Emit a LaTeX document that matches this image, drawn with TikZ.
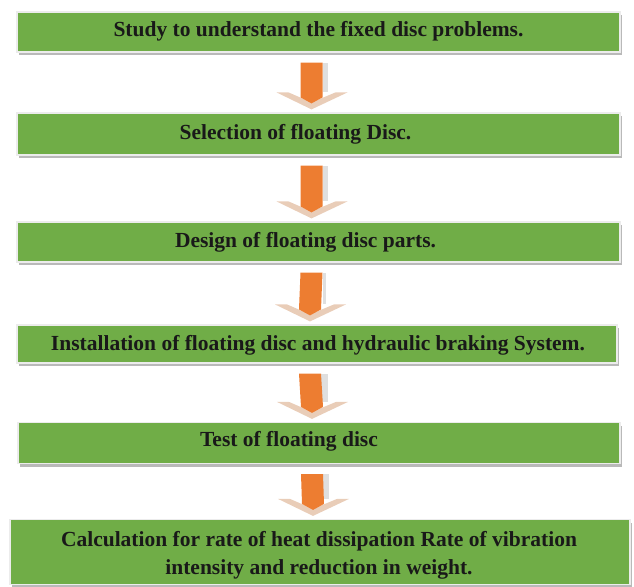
\documentclass[tikz,border=0pt]{standalone}
\usepackage{fontspec}
\setmainfont{Liberation Serif}
\usetikzlibrary{calc,shadows}
\definecolor{stepgreen}{HTML}{70AD47}
\definecolor{steporange}{HTML}{ED7D31}
\definecolor{steptan}{HTML}{E9CDB8}
\newcommand{\steparrow}[2]{%
  \coordinate (s) at ($(#1.south)+(-7,10)$);
  \coordinate (t) at ($(#2.north)+(-7,-3)$);
  \fill[steptan] ($(t)+(-35,-17)$) -- (t) -- ($(t)+(36,-17)$) -- ($(t)+(24,-17)$) -- ($(t)+(0,-7)$) -- ($(t)+(-23,-17)$) -- cycle;
  \fill[gray!25] ($(s)+(11,0)$) rectangle ($(t)+(16,-17)$);
  \fill[steporange] ($(s)+(-11,0)$) -- ($(s)+(11,0)$) -- ($(t)+(11,-12)$) -- ($(t)+(0,-6)$) -- ($(t)+(-11,-12)$) -- cycle;
}
\begin{document}
\begin{tikzpicture}[x=1pt,y=-1pt,
    stepbox/.style={fill=stepgreen,draw=gray!15,line width=1.2pt,inner sep=0pt,
      drop shadow={shadow xshift=2pt,shadow yshift=-3pt,fill=gray!55,opacity=1}},
    steptext/.style={font=\fontsize{21.5}{28}\selectfont\bfseries,text=black!90,align=center,inner sep=0pt}]
    \useasboundingbox (0,0) rectangle (634,586);
    %% boxes
    \node[stepbox,minimum width=603,minimum height=40] (b1) at (318.5,32) {};
    \node[stepbox,minimum width=603,minimum height=42] (b2) at (318.5,134) {};
    \node[stepbox,minimum width=603,minimum height=40] (b3) at (318.5,242) {};
    \node[stepbox,minimum width=600,minimum height=38] (b4) at (317,344) {};
    \node[stepbox,minimum width=602,minimum height=41] (b5) at (319,443) {};
    \node[stepbox,minimum width=620,minimum height=65] (b6) at (320,552) {};
    %% labels
    \node[steptext] (t1) at ($(b1)+(0,-1)$) {Study to understand the fixed disc problems.};
    \node[steptext] (t2) at ($(b2)+(-23,0)$) {Selection of floating Disc.};
    \node[steptext] (t3) at ($(b3)+(-13,0)$) {Design of floating disc parts.};
    \node[steptext] (t4) at ($(b4)+(1,1)$) {Installation of floating disc and hydraulic braking System.};
    \node[steptext] (t5) at ($(b5)+(-30,-2)$) {Test of floating disc};
    \node[steptext] (t6) at ($(b6)+(-1,3)$) {Calculation for rate of heat dissipation Rate of vibration\\intensity and reduction in weight.};
    %% arrows
    \steparrow{b1}{b2}
    \steparrow{b2}{b3}
    \steparrow{b3}{b4}
    \steparrow{b4}{b5}
    \steparrow{b5}{b6}
\end{tikzpicture}
\end{document}
